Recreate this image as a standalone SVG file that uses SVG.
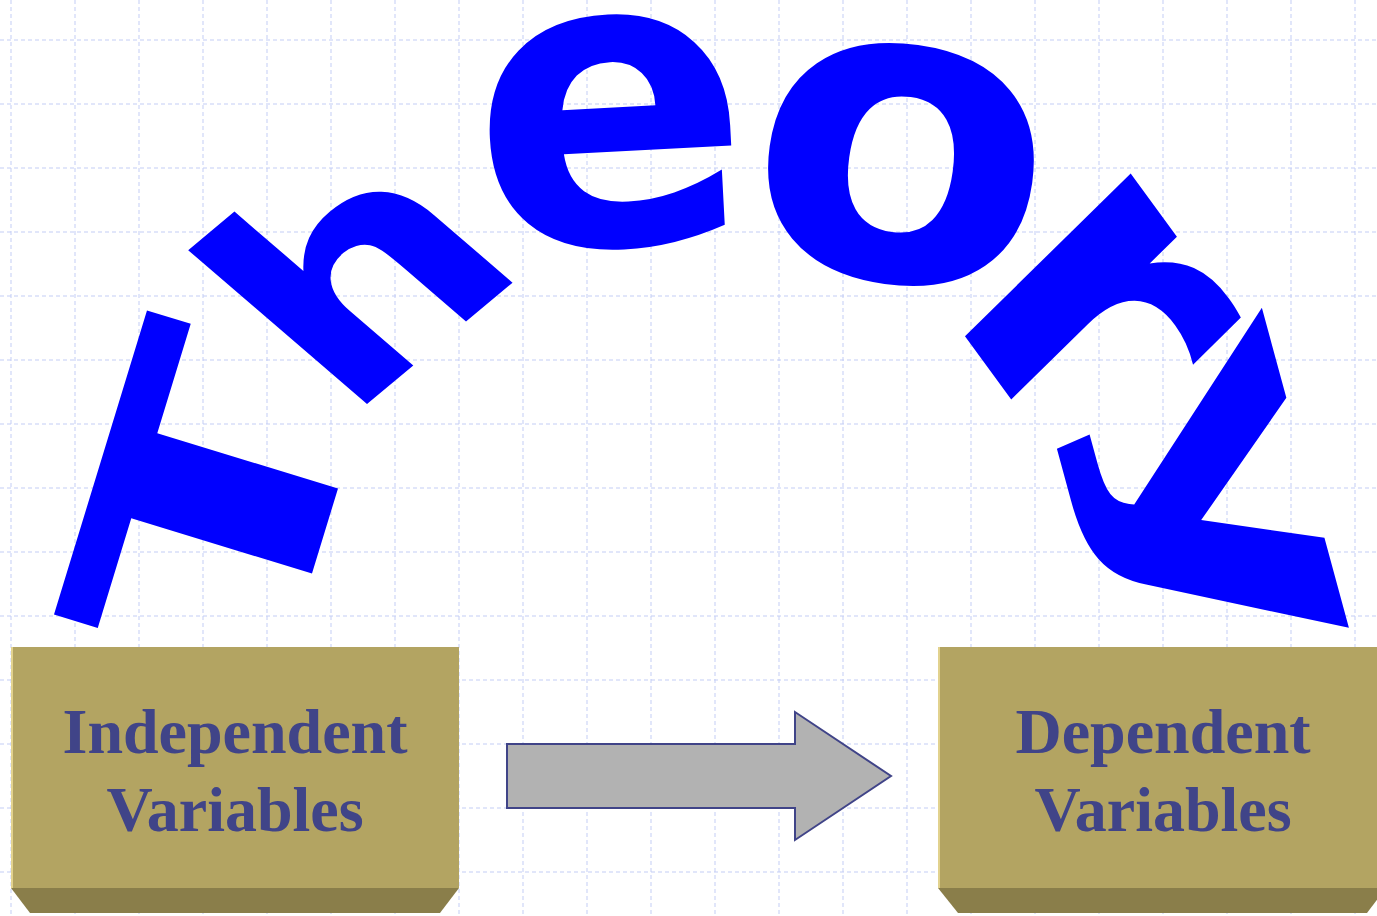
<svg xmlns="http://www.w3.org/2000/svg" width="1377" height="916" viewBox="0 0 1377 916">
<defs>
<style>
.grid line{stroke:#c3cdf5;stroke-width:1;stroke-dasharray:4 3}
.face{fill:#b3a462}
.edge{fill:#8a7e4a}
.hl{stroke:#e2d28e;stroke-width:2}
.lbl{font-family:"Liberation Serif","Times New Roman",serif;font-weight:bold;font-size:64px;fill:#404488;text-anchor:middle}
.wa{font-family:"DejaVu Sans",Verdana,sans-serif;font-weight:bold;fill:#0000ff;text-anchor:middle}
</style>
</defs>
<rect width="1377" height="916" fill="#ffffff"/>
<g class="grid">
<line x1="11" y1="0" x2="11" y2="916"/><line x1="75" y1="0" x2="75" y2="916"/><line x1="139" y1="0" x2="139" y2="916"/><line x1="203" y1="0" x2="203" y2="916"/><line x1="267" y1="0" x2="267" y2="916"/><line x1="331" y1="0" x2="331" y2="916"/><line x1="395" y1="0" x2="395" y2="916"/><line x1="459" y1="0" x2="459" y2="916"/><line x1="523" y1="0" x2="523" y2="916"/><line x1="587" y1="0" x2="587" y2="916"/><line x1="651" y1="0" x2="651" y2="916"/><line x1="715" y1="0" x2="715" y2="916"/><line x1="779" y1="0" x2="779" y2="916"/><line x1="843" y1="0" x2="843" y2="916"/><line x1="907" y1="0" x2="907" y2="916"/><line x1="971" y1="0" x2="971" y2="916"/><line x1="1035" y1="0" x2="1035" y2="916"/><line x1="1099" y1="0" x2="1099" y2="916"/><line x1="1163" y1="0" x2="1163" y2="916"/><line x1="1227" y1="0" x2="1227" y2="916"/><line x1="1291" y1="0" x2="1291" y2="916"/><line x1="1355" y1="0" x2="1355" y2="916"/>
<line x1="0" y1="40" x2="1377" y2="40"/><line x1="0" y1="104" x2="1377" y2="104"/><line x1="0" y1="168" x2="1377" y2="168"/><line x1="0" y1="232" x2="1377" y2="232"/><line x1="0" y1="296" x2="1377" y2="296"/><line x1="0" y1="360" x2="1377" y2="360"/><line x1="0" y1="424" x2="1377" y2="424"/><line x1="0" y1="488" x2="1377" y2="488"/><line x1="0" y1="552" x2="1377" y2="552"/><line x1="0" y1="616" x2="1377" y2="616"/><line x1="0" y1="680" x2="1377" y2="680"/><line x1="0" y1="744" x2="1377" y2="744"/><line x1="0" y1="808" x2="1377" y2="808"/><line x1="0" y1="872" x2="1377" y2="872"/>
</g>
<g id="theory">
<text class="wa" font-size="322" transform="translate(325,531) rotate(-73) scale(1.47,1)">T</text>
<text class="wa" font-size="322" transform="matrix(0.822,-0.686,0.731,0.629,439,344)">h</text>
<text class="wa" font-size="410" transform="translate(617,244) rotate(-3)">e</text>
<text class="wa" font-size="420" transform="translate(885,278) rotate(8) scale(1.05,1)">o</text>
<text class="wa" font-size="422" transform="matrix(0.627,0.857,-0.718,0.705,1008,395)">r</text>
<text class="wa" font-size="310" transform="matrix(0.4516,1.661,-0.919,0.405,1150,538)">y</text>
</g>
<g id="independent">
<rect class="face" x="11" y="647" width="448" height="241"/>
<polygon class="edge" points="11,888 459,888 440,913 30,913"/>
<line class="hl" x1="12" y1="647" x2="12" y2="888"/>
<text class="lbl" x="235" y="753">Independent</text>
<text class="lbl" x="235" y="831">Variables</text>
</g>
<g id="dependent">
<rect class="face" x="938" y="647" width="448" height="241"/>
<polygon class="edge" points="938,888 1386,888 1367,913 958,913"/>
<line class="hl" x1="939" y1="647" x2="939" y2="888"/>
<text class="lbl" x="1163" y="753">Dependent</text>
<text class="lbl" x="1163" y="831">Variables</text>
</g>
<g id="connectors">
<polygon points="507,744 795,744 795,712 891,776 795,840 795,808 507,808" fill="#b2b2b2" stroke="#404488" stroke-width="2"/>
</g>
</svg>
